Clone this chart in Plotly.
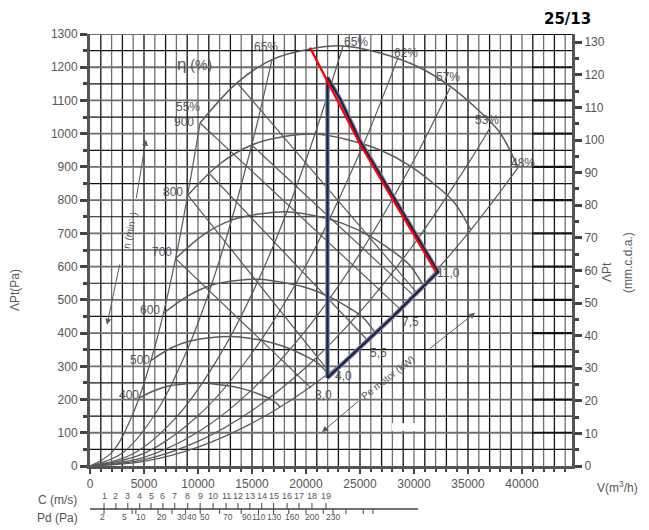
import plotly.graph_objects as go

# ---------------- data ----------------
V_MAX = 44630          # m3/h at right border
P_MAX = 1300           # Pa at top border
MMCDA = 9.81           # Pa per mm.c.d.a.

pa_ticks = list(range(0, 1301, 100))
mmcda_ticks = list(range(0, 131, 10))
v_ticks = list(range(0, 40001, 5000))

# fan speed curves (n, min-1): flow V (m3/h) / total pressure (Pa)
v_n400 = [4529, 6049, 7489, 9053, 10413, 11933, 13458, 14813, 16049, 16871, 17613]
p_n400 = [204, 228, 242, 248, 250, 245, 238, 226, 211, 198, 178]
v_n500 = [5661, 7561, 9361, 11317, 13017, 14917, 16822, 18517, 20061, 21089, 22017]
p_n500 = [318, 356, 377, 387, 390, 384, 371, 353, 329, 310, 278]
v_n600 = [6793, 9073, 11233, 13580, 15620, 17900, 20187, 22220, 24073, 25307, 26420]
p_n600 = [459, 512, 544, 558, 562, 552, 535, 508, 474, 446, 400]
v_n700 = [7926, 10586, 13106, 15844, 18224, 20884, 23552, 25924, 28086, 29525, 30824]
p_n700 = [624, 698, 740, 759, 765, 752, 728, 692, 645, 607, 545]
v_n800 = [9058, 12098, 14978, 18107, 20827, 23867, 26916, 29627, 32098, 33742, 35227]
p_n800 = [815, 911, 966, 992, 999, 982, 950, 903, 842, 792, 712]
v_n900 = [10190, 13610, 16850, 20370, 23430, 26850, 30280, 33330, 36110, 37960, 39630]
p_n900 = [1032, 1153, 1223, 1255, 1264, 1243, 1203, 1143, 1066, 1003, 898]
speed_labels = ["400", "500", "600", "700", "800", "900"]

# iso-efficiency curves
v_e55 = [0, 2000, 4000, 6000, 8000, 10190]
p_e55 = [0, 40, 159, 358, 636, 1032]
v_e65a = [0, 3000, 6000, 9000, 12000, 15000, 16850]
p_e65a = [0, 39, 155, 349, 620, 969, 1223]
v_e65b = [0, 4000, 8000, 12000, 16000, 20000, 23430]
p_e65b = [0, 37, 147, 332, 589, 921, 1264]
v_e62 = [0, 5000, 10000, 15000, 20000, 25000, 28520]
p_e62 = [0, 38, 151, 340, 604, 944, 1229]
v_e57 = [0, 5000, 10000, 15000, 20000, 25000, 30000, 33340]
p_e57 = [0, 26, 102, 230, 409, 640, 921, 1138]
v_e53 = [0, 5000, 10000, 15000, 20000, 25000, 30000, 35000, 37040]
p_e53 = [0, 19, 74, 167, 297, 464, 668, 909, 1018]
v_e48 = [0, 5000, 10000, 15000, 20000, 25000, 30000, 35000, 39630]
p_e48 = [0, 14, 57, 129, 229, 357, 515, 700, 898]
eff_labels = ["55%", "65%", "65%", "62%", "57%", "53%", "48%"]

# motor power lines (descending, start / end)
v_pw_a = [10190, 28700]
p_pw_a = [1032, 473]
v_pw_b = [13610, 30190]
p_pw_b = [1154, 524]
v_pw_c = [9058, 22220]
p_pw_c = [815, 280]
v_pw_d = [7926, 20460]
p_pw_d = [624, 235]
v_pw_e = [14978, 30000]
p_pw_e = [966, 512]
v_pw_f = [11110, 25740]
p_pw_f = [878, 377]

# selected fan: red curve and blue working envelope
v_red = [20370, 25000, 28060, 32040]
p_red = [1259, 969, 801, 584]
v_blue = [21990, 21990, 23150, 25000, 28700, 32220, 28000, 25000, 21990]
p_blue = [265, 1169, 1105, 978, 777, 584, 448, 357, 265]

kw_labels = ["3,0", "4,0", "5,5", "7,5", "11,0"]

# lower scales: outlet velocity C (m/s) and dynamic pressure Pd (Pa)
c_labels = [str(i) for i in range(1, 20)]
c_pos = [1300, 2400, 3500, 4600, 5650, 6750, 7850, 9050, 10200, 11400, 12600,
         13700, 14800, 15900, 17000, 18250, 19350, 20550, 21850]
pd_labels = ["2", "5", "10", "20", "30", "40", "50", "70", "90", "110", "130", "160", "200", "230"]
pd_pos = [1200, 3240, 4720, 6670, 8520, 9440, 10650, 12780, 14540, 15650, 17040, 18700, 20560, 22500]
pd_tick_pos = [1300, 3900, 4250, 6300, 7600, 8850, 10200, 12000, 14000, 15600, 17000, 18400,
               20000, 21600, 22500, 23700, 25300, 26200]

# ---------------- figure ----------------
GRAY = "#5a5a5a"
TXT = "#555555"
FONT = "Liberation Sans, Arial, sans-serif"

fig = go.Figure()
shapes = []

# grid
for i, v in enumerate(range(1000, 44001, 1000)):
    col = "#111111" if i % 2 == 0 else "#6e6e6e"
    shapes.append(dict(type="line", xref="x", yref="y", x0=v, x1=v, y0=0, y1=P_MAX,
                       line=dict(color=col, width=1.3), layer="below"))
for p in range(50, 1301, 50):
    if p % 100 == 0:
        shapes.append(dict(type="line", xref="x", yref="y", x0=0, x1=40930, y0=p, y1=p,
                           line=dict(color="#6e6e6e", width=1.8), layer="below"))
        shapes.append(dict(type="line", xref="x", yref="y", x0=40930, x1=V_MAX, y0=p, y1=p,
                           line=dict(color="#111111", width=2.2), layer="below"))
    else:
        shapes.append(dict(type="line", xref="x", yref="y", x0=0, x1=V_MAX, y0=p, y1=p,
                           line=dict(color="#111111", width=1.2), layer="below"))
# white gap in the grid
shapes.append(dict(type="rect", xref="x", yref="y", x0=27960, x1=30370, y0=105, y1=129,
                   fillcolor="white", line=dict(width=0), layer="below"))

def curve(v, p, color=GRAY, width=1.4, shape="spline"):
    fig.add_trace(go.Scatter(x=v, y=p, mode="lines", hoverinfo="skip", showlegend=False,
                             line=dict(color=color, width=width, shape=shape)))

for v, p in [(v_e55, p_e55), (v_e65a, p_e65a), (v_e65b, p_e65b), (v_e62, p_e62),
             (v_e57, p_e57), (v_e53, p_e53), (v_e48, p_e48)]:
    curve(v, p, width=1.2)
for v, p in [(v_n400, p_n400), (v_n500, p_n500), (v_n600, p_n600), (v_n700, p_n700),
             (v_n800, p_n800), (v_n900, p_n900)]:
    curve(v, p, width=1.5)
for v, p in [(v_pw_a, p_pw_a), (v_pw_b, p_pw_b), (v_pw_c, p_pw_c), (v_pw_d, p_pw_d),
             (v_pw_e, p_pw_e), (v_pw_f, p_pw_f)]:
    curve(v, p, width=1.2, shape="linear")

# blue envelope with grey outline, red curve
curve(v_blue, p_blue, color="#8a8a8a", width=4.5, shape="linear")
curve(v_blue, p_blue, color="#14235e", width=2.3, shape="linear")
curve(v_red, p_red, color="#ff0000", width=2.2, shape="linear")

ann = []
def label(text, x, y, size=12, color=TXT, angle=0):
    ann.append(dict(text=text, x=x, y=y, xref="x", yref="y", showarrow=False,
                    xanchor="center", yanchor="middle",
                    font=dict(size=size, color=color, family=FONT), textangle=angle))

speed_pos = [(3610, 214), (4630, 319), (5560, 470), (6670, 645), (7690, 825), (8700, 1036)]
for t, (x, y) in zip(speed_labels, speed_pos):
    label(t, x, y)
eff_pos = [(9070, 1081), (16300, 1262), (24630, 1277), (29260, 1244), (33150, 1172), (36760, 1042), (40100, 913)]
for t, (x, y) in zip(eff_labels, eff_pos):
    label(t, x, y)
kw_pos = [(21580, 214), (23430, 271), (26670, 340), (29630, 434), (33150, 581)]
for t, (x, y) in zip(kw_labels, kw_pos):
    label(t, x, y)
label("<span style='font-size:17px'>η</span> (%)", 9720, 1208, size=14)
label("n (min<sup>-1</sup>)", 3610, 711, size=10, angle=-78)
label("Pe motor (kW)", 27600, 265, size=10, angle=-38)

# arrows
def arrow(x0, y0, x1, y1):
    ann.append(dict(x=x1, y=y1, ax=x0, ay=y0, xref="x", yref="y", axref="x", ayref="y",
                    text="", showarrow=True, arrowhead=2, arrowsize=1.2, arrowwidth=1,
                    arrowcolor=GRAY))
arrow(2780, 611, 1574, 425)
arrow(4260, 801, 5186, 982)
arrow(25000, 199, 21480, 102)
arrow(31300, 349, 35650, 461)

# lower velocity / dynamic pressure scales
def py2paper(py):
    return (466 - py) / 432

y_line = py2paper(509)
shapes.append(dict(type="line", xref="x", yref="paper", x0=0, x1=30370, y0=y_line, y1=y_line,
                   line=dict(color="#444", width=1.3)))
for x in c_pos:
    shapes.append(dict(type="line", xref="x", yref="paper", x0=x, x1=x, y0=y_line, y1=py2paper(503),
                       line=dict(color="#444", width=1)))
for x in pd_tick_pos:
    shapes.append(dict(type="line", xref="x", yref="paper", x0=x, x1=x, y0=y_line, y1=py2paper(514),
                       line=dict(color="#444", width=1)))
for t, x in zip(c_labels, c_pos):
    ann.append(dict(text=t, x=x, y=py2paper(496), xref="x", yref="paper", showarrow=False,
                    xanchor="center", yanchor="middle", font=dict(size=9, color=TXT, family=FONT)))
for t, x in zip(pd_labels, pd_pos):
    ann.append(dict(text=t, x=x, y=py2paper(517), xref="x", yref="paper", showarrow=False,
                    xanchor="center", yanchor="middle", font=dict(size=8.5, color=TXT, family=FONT)))

def ptext(text, px, py, size=12, angle=0, color=TXT, bold=False, family=FONT):
    ann.append(dict(text=f"<b>{text}</b>" if bold else text, x=(px - 90) / 482, y=py2paper(py),
                    xref="paper", yref="paper", showarrow=False, textangle=angle,
                    xanchor="center", yanchor="middle",
                    font=dict(size=size, color=color, family=family)))

ptext("C (m/s)", 57, 500, 12)
ptext("Pd (Pa)", 57, 518, 12)
ptext("V(m<sup>3</sup>/h)", 617, 487, 12)
ptext("ΛPt(Pa)", 15, 290, 12, angle=-90)
ptext("ΛPt", 607, 272, 12, angle=-90)
ptext("(mm.c.d.a.)", 628, 263, 12, angle=-90)
ptext("25/13", 567, 19, 15, color="#000000", bold=True, family="DejaVu Sans, Verdana, sans-serif")

# secondary axis needs a trace
fig.add_trace(go.Scatter(x=[0], y=[0], yaxis="y2", mode="markers", marker=dict(opacity=0),
                         hoverinfo="skip", showlegend=False))

# page body has an 8px margin: the figure is shrunk and shifted so the plot lands where the reference has it
fig.update_layout(
    width=641, height=522,
    margin=dict(l=82, r=77, t=26, b=64),
    paper_bgcolor="white", plot_bgcolor="white",
    shapes=shapes, annotations=ann,
    font=dict(family=FONT, color=TXT),
    xaxis=dict(range=[0, V_MAX], tickvals=v_ticks, ticktext=[str(v) for v in v_ticks],
               showgrid=False, zeroline=False, showline=True, linecolor="#555", linewidth=3,
               ticks="outside", ticklen=5, tickwidth=2, tickcolor="#444",
               minor=dict(dtick=1000, ticks="outside", ticklen=3, tickcolor="#444"),
               tickfont=dict(size=12, color=TXT)),
    yaxis=dict(range=[0, P_MAX], tickvals=pa_ticks, showgrid=False, zeroline=False,
               showline=True, linecolor="#555", linewidth=3, ticks="outside", ticklen=7,
               tickwidth=2.5, tickcolor="#444",
               minor=dict(dtick=50, ticks="outside", ticklen=4, tickwidth=2.5, tickcolor="#444"),
               tickfont=dict(size=12, color=TXT)),
    yaxis2=dict(range=[0, P_MAX / MMCDA], tickvals=mmcda_ticks, overlaying="y", side="right",
                showgrid=False, zeroline=False, showline=True, linecolor="#555", linewidth=3,
                ticks="outside", ticklen=7, tickwidth=2.5, tickcolor="#444",
                minor=dict(dtick=5, ticks="outside", ticklen=4, tickwidth=2.5, tickcolor="#444"),
                tickfont=dict(size=12, color=TXT)),
)

fig.write_html("out.html")
